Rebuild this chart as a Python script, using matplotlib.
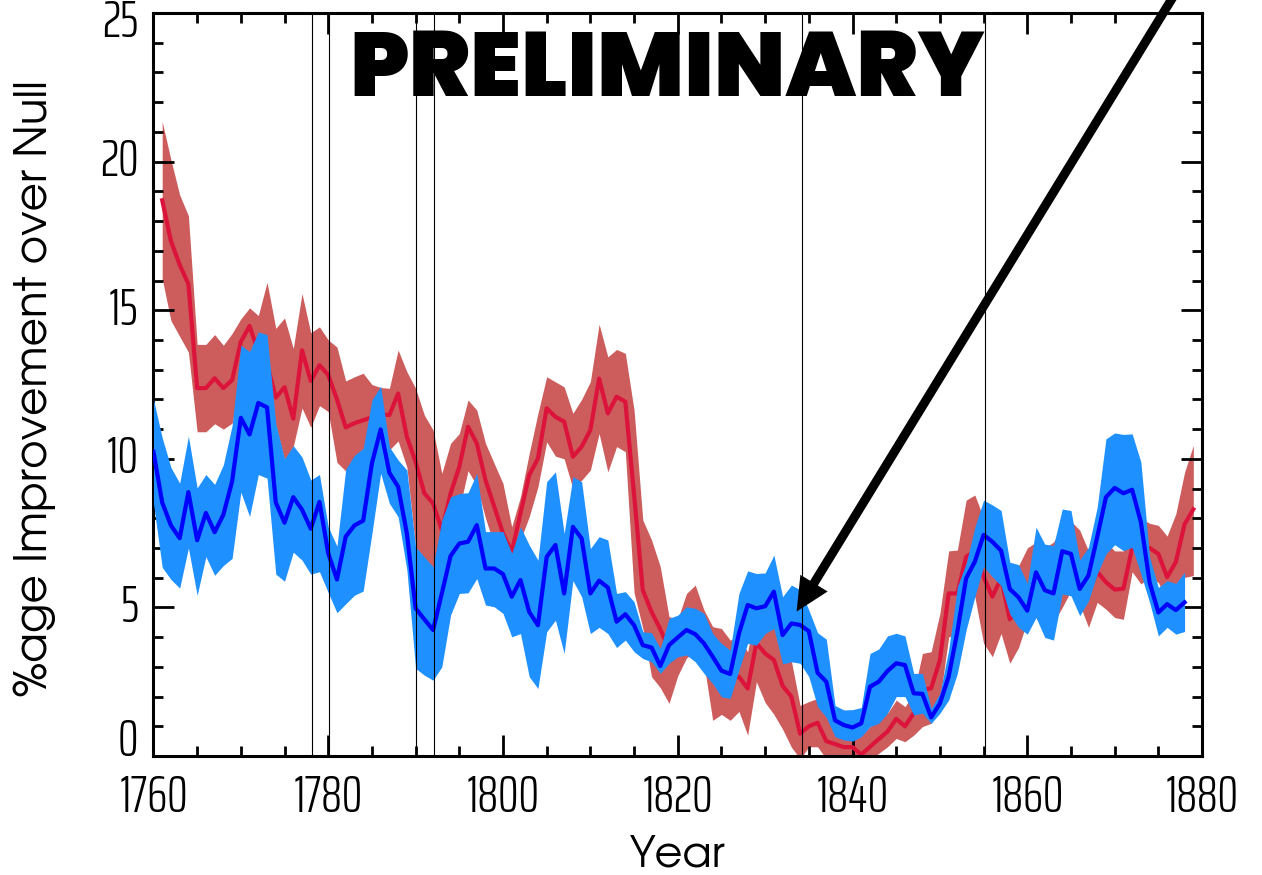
import numpy as np
import matplotlib
matplotlib.use("Agg")
import matplotlib.pyplot as plt
from matplotlib.ticker import MultipleLocator
from matplotlib import transforms

# ---------------- data ----------------
red_years = list(range(1761, 1880))
red_mean = [18.7, 17.33, 16.53, 15.88, 12.38, 12.38, 12.71, 12.38, 12.65, 13.94,
            14.47, 13.6, 13.2, 12.06, 12.41, 11.35, 13.65, 12.62, 13.15, 12.82,
            12.0, 11.06, 11.2, 11.3, 11.4, 11.5, 11.47, 12.2, 10.74, 9.9,
            8.84, 8.5, 7.6, 8.83, 9.73, 11.08, 10.52, 9.28, 8.39, 7.49,
            6.87, 8.16, 9.45, 10.01, 11.7, 11.41, 11.25, 10.07, 10.41, 10.97,
            12.7, 11.53, 12.09, 11.92, 8.8, 5.58, 4.85, 4.27, 3.6, 3.6,
            4.3, 4.6, 4.0, 3.0, 2.9, 2.6, 2.67, 2.27, 3.8, 3.45,
            3.23, 2.36, 2.0, 0.75, 1.0, 1.12, 0.5, 0.4, 0.3, 0.3,
            0.05, 0.31, 0.57, 0.82, 1.25, 1.0, 1.44, 2.22, 2.28, 3.23,
            5.47, 5.47, 6.7, 6.9, 6.03, 5.36, 5.98, 4.6, 5.0, 5.6,
            5.8, 5.6, 5.8, 6.3, 6.5, 6.2, 5.5, 6.2, 5.85, 5.6,
            5.63, 7.0, 7.0, 7.0, 6.8, 6.02, 6.53, 7.8, 8.3]
red_upper = [21.35, 20.06, 18.88, 18.18, 13.85, 13.85, 14.18, 13.82, 14.22, 14.71,
             15.08, 14.82, 15.94, 14.39, 14.74, 13.71, 15.56, 14.24, 14.44, 14.0,
             13.76, 12.62, 12.76, 12.88, 12.5, 12.4, 12.37, 13.66, 12.93, 12.37,
             11.47, 10.97, 9.51, 10.52, 10.85, 11.98, 11.64, 10.52, 9.84, 9.17,
             7.71, 8.72, 10.18, 11.53, 12.76, 12.59, 12.42, 11.53, 12.0, 12.6,
             14.53, 13.43, 13.68, 13.55, 11.64, 7.94, 7.27, 6.37, 4.69, 4.6,
             5.47, 5.75, 4.91, 4.35, 4.29, 3.9, 4.0, 3.5, 5.0, 4.7,
             4.5, 3.6, 3.2, 1.7, 1.83, 1.94, 1.4, 1.2, 1.0, 0.9,
             0.7, 0.99, 1.27, 1.44, 1.88, 1.66, 2.11, 3.45, 3.51, 4.8,
             6.9, 6.93, 8.61, 8.78, 8.0, 7.3, 7.4, 6.0, 6.4, 7.0,
             7.2, 7.0, 7.2, 7.7, 7.9, 7.6, 6.9, 7.6, 7.2, 6.9,
             6.9, 8.0, 8.0, 7.83, 7.76, 7.4, 8.15, 9.55, 10.45]
red_lower = [16.06, 14.65, 14.12, 13.59, 10.91, 10.91, 11.18, 11.0, 11.2, 12.5,
             13.0, 12.2, 11.8, 11.12, 9.96, 10.41, 11.71, 11.06, 11.79, 11.59,
             9.88, 9.59, 9.94, 10.12, 10.1, 10.2, 10.3, 10.6, 9.72, 7.04,
             6.48, 6.06, 6.4, 7.4, 8.3, 9.6, 9.1, 8.0, 7.1, 6.3,
             6.82, 7.27, 8.05, 9.06, 10.57, 10.09, 10.0, 9.0, 9.28, 9.62,
             10.85, 9.56, 10.41, 10.24, 5.5, 4.3, 2.67, 2.3, 1.77, 2.7,
             3.3, 3.5, 3.1, 1.2, 1.4, 1.2, 1.5, 0.7, 2.5, 1.8,
             1.4, 0.9, 0.3, -0.1, 0.31, 0.31, -0.1, -0.3, -0.4, -0.5,
             -0.6, -0.1, 0.09, 0.31, 0.59, 0.48, 0.7, 0.99, 1.1, 1.88,
             4.0, 4.13, 5.47, 5.36, 3.79, 3.34, 4.12, 3.12, 3.65, 4.55,
             4.66, 4.2, 4.49, 5.0, 5.56, 5.11, 4.33, 5.17, 4.94, 4.66,
             4.6, 6.2, 5.79, 6.01, 5.84, 5.22, 5.73, 6.01, 6.07]

blue_years = list(range(1760, 1879))
blue_mean = [10.24, 8.53, 7.76, 7.33, 8.88, 7.26, 8.18, 7.53, 8.12, 9.24,
             11.38, 10.82, 11.88, 11.73, 8.53, 7.85, 8.71, 8.29, 7.65, 8.55,
             6.82, 5.94, 7.38, 7.76, 7.92, 9.85, 10.99, 9.53, 9.06, 7.49,
             4.97, 4.6, 4.24, 5.47, 6.73, 7.15, 7.21, 7.77, 6.31, 6.31,
             6.12, 5.36, 5.92, 4.85, 4.4, 6.7, 7.1, 5.47, 7.71, 7.32,
             5.47, 5.9, 5.67, 4.52, 4.77, 4.4, 3.73, 3.65, 3.03, 3.73,
             3.99, 4.24, 4.1, 3.79, 3.34, 2.87, 2.76, 4.12, 5.08, 4.97,
             5.04, 5.53, 4.07, 4.46, 4.41, 4.2, 2.8, 2.5, 1.2, 1.04,
             0.96, 1.1, 2.33, 2.5, 2.86, 3.12, 3.06, 2.11, 2.09, 1.3,
             1.77, 2.67, 4.19, 5.98, 6.54, 7.44, 7.21, 6.91, 5.62, 5.34,
             4.89, 6.18, 5.58, 5.47, 6.89, 6.8, 5.62, 6.07, 7.36, 8.71,
             9.02, 8.84, 8.96, 7.87, 5.84, 4.83, 5.11, 4.91, 5.17]
blue_upper = [12.0, 10.71, 9.71, 9.18, 10.76, 9.02, 9.47, 9.14, 9.8, 11.12,
              13.82, 13.61, 14.27, 14.18, 11.18, 10.0, 10.44, 10.06, 9.29, 9.47,
              7.71, 7.06, 9.65, 10.12, 10.35, 11.98, 12.45, 10.4, 9.96, 9.62,
              7.04, 6.7, 6.37, 7.94, 8.72, 8.83, 8.86, 9.51, 7.55, 7.55,
              7.55, 6.82, 7.71, 7.1, 6.59, 9.23, 9.56, 7.49, 9.4, 9.23,
              6.98, 7.38, 7.27, 5.47, 5.53, 5.19, 4.18, 4.15, 3.62, 4.63,
              4.74, 5.02, 4.97, 4.8, 4.12, 3.79, 3.56, 5.47, 6.23, 6.14,
              6.16, 6.76, 5.36, 5.75, 5.6, 4.91, 4.15, 3.93, 1.7, 1.55,
              1.56, 1.63, 3.45, 3.6, 4.04, 4.13, 4.04, 2.78, 2.78, 1.6,
              2.11, 3.56, 5.7, 6.48, 7.7, 8.61, 8.45, 8.26, 6.52, 6.44,
              5.81, 7.7, 7.13, 7.08, 8.31, 8.26, 6.6, 7.02, 8.37, 10.67,
              10.87, 10.82, 10.84, 9.89, 6.69, 5.67, 5.9, 5.81, 6.18]
blue_lower = [8.5, 6.35, 5.94, 5.65, 7.0, 5.41, 6.71, 6.08, 6.41, 6.65,
              8.88, 8.06, 9.47, 9.35, 6.12, 5.88, 6.86, 6.59, 6.12, 6.2,
              5.5, 4.82, 5.12, 5.41, 5.55, 7.49, 9.51, 8.5, 8.05, 6.26,
              2.95, 2.72, 2.55, 3.0, 4.74, 5.47, 5.49, 5.97, 5.08, 5.02,
              4.8, 4.01, 4.12, 2.67, 2.27, 4.18, 4.57, 3.45, 5.9, 5.36,
              4.12, 4.33, 4.12, 3.65, 3.9, 3.51, 3.28, 3.17, 2.78, 3.12,
              3.34, 3.4, 3.17, 2.78, 2.44, 1.99, 1.94, 2.89, 3.79, 3.73,
              4.12, 4.29, 3.1, 3.17, 3.12, 2.67, 1.66, 1.3, 0.65, 0.54,
              0.5, 0.65, 0.99, 1.1, 1.44, 2.0, 2.0, 1.38, 1.44, 1.1,
              1.44, 1.88, 2.78, 4.24, 5.36, 6.37, 6.03, 5.73, 4.78, 4.33,
              4.1, 4.66, 3.99, 3.9, 5.45, 5.39, 4.72, 5.22, 6.12, 6.8,
              7.11, 6.91, 7.02, 6.12, 5.17, 4.04, 4.33, 4.1, 4.19]

event_years = [1778.1, 1780.1, 1790.1, 1792.1, 1834.2, 1855.2]

x_ticks = [1760, 1780, 1800, 1820, 1840, 1860, 1880]
x_tick_labels = ["1760", "1780", "1800", "1820", "1840", "1860", "1880"]
y_ticks = [0, 5, 10, 15, 20, 25]
y_tick_labels = ["0", "5", "10", "15", "20", "25"]

x_label = "Year"
y_label = "%age Improvement over Null"
stamp_text = "PRELIMINARY"
arrow_tip = (1833.6, 4.86)
arrow_tail = (1876.8, 25.6)

# ---------------- figure ----------------
TICK_FONT = ["Saira ExtraCondensed", "DejaVu Sans"]
LABEL_FONT = ["TeX Gyre Adventor", "DejaVu Sans"]
STAMP_FONT = ["Poppins", "DejaVu Sans"]

fig = plt.figure(figsize=(12.62, 8.75), dpi=100)
ax = fig.add_axes([0.1216, 0.136, 0.8309, 0.8491])

ax.fill_between(red_years, red_lower, red_upper, color="#CD5C5C", lw=0, zorder=1)
ax.plot(red_years, red_mean, color="#DC143C", lw=3.0, zorder=2)
ax.fill_between(blue_years, blue_lower, blue_upper, color="#1E90FF", lw=0, zorder=3)
ax.plot(blue_years, blue_mean, color="#0000FF", lw=3.0, zorder=4)

for ev in event_years:
    ax.axvline(ev, color="black", lw=0.8, zorder=5)

ax.set_xlim(1760, 1880)
ax.set_ylim(0, 25)

ax.set_xticks(x_ticks)
ax.set_xticklabels(x_tick_labels, family=TICK_FONT, fontsize=37, fontweight=300)
ax.xaxis.set_minor_locator(MultipleLocator(5))
ax.set_yticks(y_ticks)
ax.set_yticklabels([])
ax.yaxis.set_minor_locator(MultipleLocator(1))

ax.tick_params(which="both", direction="in", top=True, right=True, width=2.0, color="black")
ax.tick_params(which="major", length=15, pad=12)
ax.tick_params(which="minor", length=7.5)
for sp in ax.spines.values():
    sp.set_linewidth(2.2)

# y tick labels placed by hand (first/last nudged inside like the original)
ytrans = transforms.blended_transform_factory(ax.transAxes, ax.transData)
for val, lab in zip(y_ticks, y_tick_labels):
    dy = 0.0
    if val == y_ticks[0]:
        dy = 15 / 100
    elif val == y_ticks[-1]:
        dy = -9 / 100
    off = transforms.ScaledTranslation(-15 / 100, dy, fig.dpi_scale_trans)
    ax.text(0, val, lab, transform=ytrans + off, ha="right", va="center",
            family=TICK_FONT, fontsize=37, fontweight=300)

ax.set_xlabel(x_label, family=LABEL_FONT, fontsize=31, labelpad=9)
fig.text(0.0275, 0.5566, y_label, rotation=90, ha="center", va="center",
         family=LABEL_FONT, fontsize=31.5)

ax.text(0.4897, 0.9165, stamp_text, transform=ax.transAxes, ha="center", va="center",
        fontsize=66, fontweight=900, family=STAMP_FONT, zorder=6)

ax.annotate("", xy=arrow_tip, xytext=arrow_tail, xycoords="data", textcoords="data",
            annotation_clip=False,
            arrowprops=dict(arrowstyle="simple,head_length=2.4,head_width=2.3,tail_width=0.65",
                            mutation_scale=10, fc="black", ec="none", lw=0,
                            shrinkA=0, shrinkB=0), zorder=7)

fig.savefig("out.png", dpi=100)
